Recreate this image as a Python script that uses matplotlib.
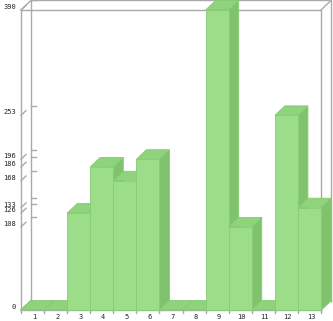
import matplotlib
matplotlib.use('Agg')
import matplotlib.pyplot as plt
from matplotlib.patches import Polygon

# data
categories = ['1', '2', '3', '4', '5', '6', '7', '8', '9', '10', '11', '12', '13']
values = [0, 0, 126, 186, 168, 196, 0, 0, 390, 108, 0, 253, 133]
y_max = 390

FRONT = '#9cdd8a'
SIDE = '#7fc46c'
TOP = '#8dd47b'
EDGE = '#88ca76'
GRID = '#aaaaaa'

W, H = 333, 321
fig = plt.figure(figsize=(W / 100, H / 100), dpi=100)
ax = fig.add_axes([21 / W, 11 / H, 300 / W, 300 / H])
n = len(categories)
ax.set_xlim(0, n)
ax.set_ylim(0, y_max)
ax.axis('off')

# pixel -> data units
px_x = n / 300
px_y = y_max / 300
DX = 10 * px_x
DY = 9.5 * px_y

line = dict(color=GRID, lw=1, clip_on=False, zorder=1)
# back wall
ax.plot([DX, DX, n + DX, n + DX], [DY, y_max + DY, y_max + DY, DY], **line)
ax.plot([DX, n + DX], [DY, DY], **line)
# front frame
ax.plot([0, 0, n, n], [0, y_max, y_max, 0], **line)
ax.plot([0, n], [0, 0], **line)
# depth edges
for x0, y0 in [(0, y_max), (n, y_max), (0, 0), (n, 0)]:
    ax.plot([x0, x0 + DX], [y0, y0 + DY], **line)

# y ticks: labels, slanted marks, marks on back wall
ticks = sorted(set(values))
for v in ticks:
    ax.plot([0, DX / 2], [v, v + DY / 2], **line)
    ax.plot([DX, DX + 5 * px_x], [v + DY, v + DY], **line)
    ax.text(-5 * px_x, v + 3 * px_y, str(v), ha='right', va='center',
            fontsize=5, family='DejaVu Sans Mono', color='#222222')

# x ticks
for i, lab in enumerate(categories):
    ax.plot([i, i], [0, -3 * px_y], **line)
    ax.text(i + 0.5 + 1.5 * px_x, -7 * px_y, lab, ha='center', va='center',
            fontsize=5, family='DejaVu Sans Mono', color='#222222')
ax.plot([n, n], [0, -3 * px_y], **line)

# 3d bars, left to right
for i, v in enumerate(values):
    x0, x1 = i, i + 1
    side = Polygon([(x1, 0), (x1 + DX, DY), (x1 + DX, v + DY), (x1, v)],
                   closed=True, fc=SIDE, ec=EDGE, lw=0.6, clip_on=False, zorder=3)
    top = Polygon([(x0, v), (x1, v), (x1 + DX, v + DY), (x0 + DX, v + DY)],
                  closed=True, fc=TOP, ec=EDGE, lw=0.6, clip_on=False, zorder=3)
    ax.add_patch(side)
    ax.add_patch(top)
    if v > 0:
        front = Polygon([(x0, 0), (x1, 0), (x1, v), (x0, v)],
                        closed=True, fc=FRONT, ec=EDGE, lw=0.6, clip_on=False, zorder=3)
        ax.add_patch(front)

fig.savefig('out.png', dpi=100)
